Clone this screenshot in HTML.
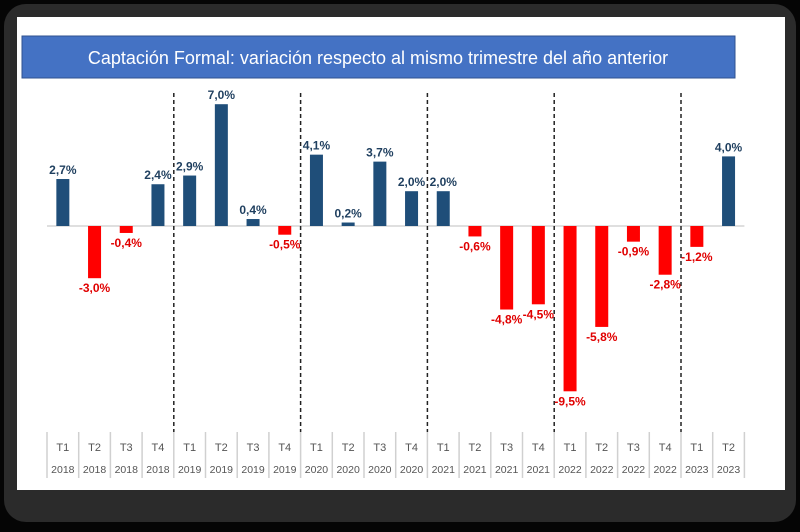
<!DOCTYPE html>
<html><head><meta charset="utf-8"><style>
body{margin:0;width:800px;height:527px;background:#050505;overflow:hidden;font-family:"Liberation Sans",sans-serif}
</style></head><body>
<svg width="800" height="527">
<rect x="4" y="4" width="792" height="518" rx="22" fill="#2b2b2b"/>
<rect x="17" y="17" width="768" height="473" fill="#ffffff"/>
<rect x="22" y="36" width="713" height="42" fill="#4472c4" stroke="#2f528f" stroke-width="1"/>
<text x="378" y="64" text-anchor="middle" font-size="18" fill="#ffffff">Captación Formal: variación respecto al mismo trimestre del año anterior</text>
<g id="g"></g>
</svg>
<script>
const quarters=["T1","T2","T3","T4","T1","T2","T3","T4","T1","T2","T3","T4","T1","T2","T3","T4","T1","T2","T3","T4","T1","T2"];
const years=["2018","2018","2018","2018","2019","2019","2019","2019","2020","2020","2020","2020","2021","2021","2021","2021","2022","2022","2022","2022","2023","2023"];
const values=[2.7,-3.0,-0.4,2.4,2.9,7.0,0.4,-0.5,4.1,0.2,3.7,2.0,2.0,-0.6,-4.8,-4.5,-9.5,-5.8,-0.9,-2.8,-1.2,4.0];
const NS="http://www.w3.org/2000/svg",g=document.getElementById('g');
const x0=47,slot=31.7,base=226,k=17.4;
const xs=i=>x0+slot*(i+0.5), ys=v=>base-v*k;
function el(t,a){const e=document.createElementNS(NS,t);for(const n in a)e.setAttribute(n,a[n]);g.appendChild(e);return e;}
let ax=el('line',{x1:x0,x2:x0+slot*values.length,y1:base,y2:base,stroke:'#bfbfbf','stroke-width':1});


for(let i=0;i<=values.length;i++){
 const x=x0+slot*i;
 const t=el('line',{x1:x,x2:x,y1:432,y2:478,stroke:'#d0d0d0','stroke-width':1.5});
 
 
 if(i%4==0&&i>0&&i<values.length){
  const d=el('line',{x1:x,x2:x,y1:93,y2:432,stroke:'#222','stroke-width':1.5,'stroke-dasharray':'4,3'});
  
  
 }
}
values.forEach((v,i)=>{
 const pos=v>=0,c=pos?'#1f4e79':'#ff0000';
 const y=Math.min(ys(v),base),h=Math.abs(v)*k;
 const r=el('rect',{x:xs(i)-6.5,y:y,width:13,height:h,fill:c});
 
 
 const lt=el('text',{x:xs(i),y:pos?ys(v)-5:ys(v)+14,'text-anchor':'middle','font-size':12,'font-weight':'bold',fill:pos?'#1f3f5f':'#e00000'});
 lt.textContent=v.toFixed(1).replace('.',',')+'%';
 
 
 const q=el('text',{x:xs(i),y:451,'text-anchor':'middle','font-size':11,fill:'#555'});
 q.textContent=quarters[i];
 
 
 const yr=el('text',{x:xs(i),y:473,'text-anchor':'middle','font-size':10.5,fill:'#555'});
 yr.textContent=years[i];
 
 
});
</script>
</body></html>
